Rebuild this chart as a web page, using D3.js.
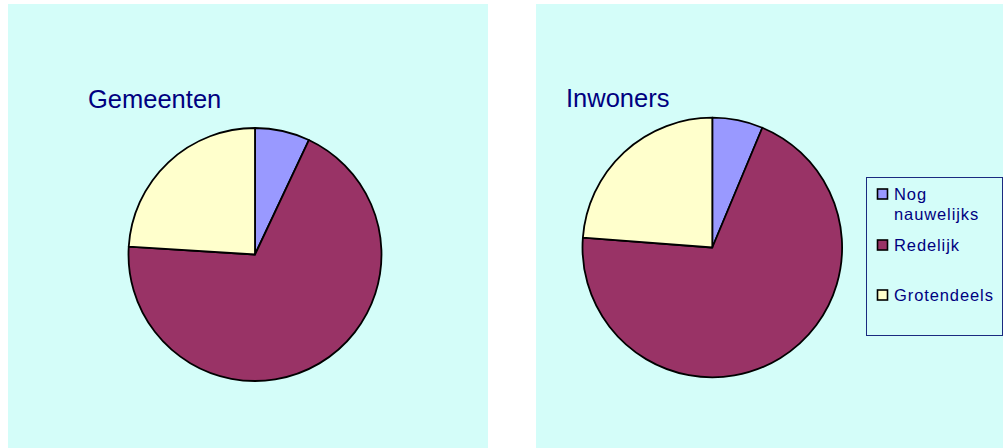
<!DOCTYPE html>
<html>
<head>
<meta charset="utf-8">
<script src="https://cdn.jsdelivr.net/npm/d3@7"></script>
<style>
html,body{margin:0;padding:0;background:#fff;}
svg{display:block;}
text{font-family:"Liberation Sans",Arial,sans-serif;}
</style>
</head>
<body>
<svg id="chart" width="1003" height="448"></svg>
<script>
const categories = ["Nog nauwelijks", "Redelijk", "Grotendeels"];
const legendLines = [["Nog", "nauwelijks"], ["Redelijk"], ["Grotendeels"]];
const gemeenten = [7.0, 69.0, 24.0];
const inwoners = [6.3, 69.9, 23.8];
const titles = ["Gemeenten", "Inwoners"];
const colors = ["#9999ff", "#993366", "#ffffcc"];

const svg = d3.select("#chart");
const bg = "#d4fdf9";
const navy = "#000080";

const panels = [
  {x: 8, y: 4, w: 480, h: 444, cx: 255, cy: 254.5, r: 126.5, tx: 88, ty: 108, data: gemeenten, title: titles[0]},
  {x: 536, y: 4, w: 467, h: 444, cx: 712.3, cy: 247.5, r: 129.8, tx: 566, ty: 106.5, data: inwoners, title: titles[1]}
];

const color = d3.scaleOrdinal().domain(categories).range(colors);
const pie = d3.pie().sort(null).value(d => d.v).startAngle(0).endAngle(2 * Math.PI);

panels.forEach(p => {
  svg.append("rect").attr("x", p.x).attr("y", p.y).attr("width", p.w).attr("height", p.h).attr("fill", bg);
  svg.append("text").attr("x", p.tx).attr("y", p.ty).attr("font-size", 25.5).attr("fill", navy).text(p.title);
  const arc = d3.arc().innerRadius(0).outerRadius(p.r);
  const g = svg.append("g").attr("transform", `translate(${p.cx},${p.cy})`);
  const rows = categories.map((c, i) => ({c, v: p.data[i]}));
  g.selectAll("path").data(pie(rows)).join("path")
    .attr("d", arc)
    .attr("fill", d => color(d.data.c))
    .attr("stroke", "#000")
    .attr("stroke-width", 1.8)
    .attr("stroke-linejoin", "round");
});

// legend
const lg = svg.append("g");
lg.append("rect").attr("x", 866.5).attr("y", 177.5).attr("width", 136).attr("height", 158)
  .attr("fill", bg).attr("stroke", "#1a2a80").attr("stroke-width", 1);
const itemY = [199.5, 250.5, 300.5]; // baselines of the first line
categories.forEach((c, i) => {
  lg.append("rect").attr("x", 877.5).attr("y", itemY[i] - 10.5).attr("width", 10).attr("height", 10)
    .attr("fill", color(c)).attr("stroke", "#000").attr("stroke-width", 1.6);
  const t = lg.append("text").attr("x", 894).attr("y", itemY[i]).attr("font-size", 16.5)
    .attr("letter-spacing", 0.9).attr("fill", navy);
  legendLines[i].forEach((line, j) => {
    t.append("tspan").attr("x", 894).attr("dy", j === 0 ? 0 : 20.5).text(line);
  });
});
</script>
</body>
</html>
